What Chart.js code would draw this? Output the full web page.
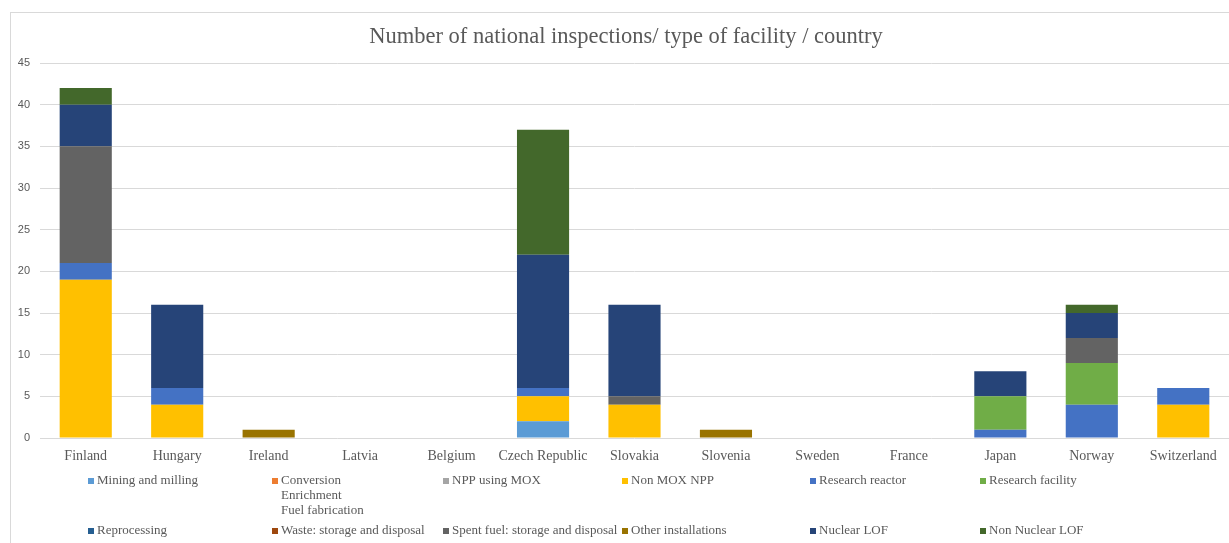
<!DOCTYPE html>
<html>
<head>
<meta charset="utf-8">
<script src="https://cdn.jsdelivr.net/npm/chart.js@4.4.1/dist/chart.umd.min.js"></script>
<style>
  html, body { margin: 0; padding: 0; background: #fff; }
  #wrap { width: 1229px; height: 543px; }
</style>
</head>
<body>
<div id="wrap"><canvas id="inspectionsChart" width="1229" height="543"></canvas></div>
<script>
var countries = ["Finland", "Hungary", "Ireland", "Latvia", "Belgium", "Czech Republic", "Slovakia",
  "Slovenia", "Sweden", "France", "Japan", "Norway", "Switzerland"];

var facilityTypes = ["Mining and milling", ["Conversion", "Enrichment", "Fuel fabrication"], "NPP using MOX",
  "Non MOX NPP", "Research reactor", "Research facility", "Reprocessing", "Waste: storage and disposal",
  "Spent fuel: storage and disposal", "Other installations", "Nuclear LOF", "Non Nuclear LOF"];

var facilityColors = ["#5B9BD5", "#ED7D31", "#A5A5A5", "#FFC000", "#4472C4", "#70AD47",
  "#255E91", "#9E480E", "#636363", "#997300", "#264478", "#43682B"];

//            Fin Hun Ire Lat Bel Cze Slk Sln Swe Fra Jap Nor Sui
var mining      = [0, 0, 0, 0, 0, 2, 0, 0, 0, 0, 0, 0, 0];
var conversion  = [0, 0, 0, 0, 0, 0, 0, 0, 0, 0, 0, 0, 0];
var nppMox      = [0, 0, 0, 0, 0, 0, 0, 0, 0, 0, 0, 0, 0];
var nonMoxNpp   = [19, 4, 0, 0, 0, 3, 4, 0, 0, 0, 0, 0, 4];
var resReactor  = [2, 2, 0, 0, 0, 1, 0, 0, 0, 0, 1, 4, 2];
var resFacility = [0, 0, 0, 0, 0, 0, 0, 0, 0, 0, 4, 5, 0];
var reprocess   = [0, 0, 0, 0, 0, 0, 0, 0, 0, 0, 0, 0, 0];
var waste       = [0, 0, 0, 0, 0, 0, 0, 0, 0, 0, 0, 0, 0];
var spentFuel   = [14, 0, 0, 0, 0, 0, 1, 0, 0, 0, 0, 3, 0];
var otherInst   = [0, 0, 1, 0, 0, 0, 0, 1, 0, 0, 0, 0, 0];
var nuclearLof  = [5, 10, 0, 0, 0, 16, 11, 0, 0, 0, 3, 3, 0];
var nonNuclLof  = [2, 0, 0, 0, 0, 15, 0, 0, 0, 0, 0, 1, 0];

var yTicks = [0, 5, 10, 15, 20, 25, 30, 35, 40, 45];

var chartTitle = "Number of national inspections/ type of facility / country";

var seriesValues = [mining, conversion, nppMox, nonMoxNpp, resReactor, resFacility,
  reprocess, waste, spentFuel, otherInst, nuclearLof, nonNuclLof];

var grey = "#595959";
var serif = "'Liberation Serif', 'Times New Roman', serif";

var datasets = seriesValues.map(function (vals, i) {
  return {
    label: facilityTypes[i],
    data: vals,
    backgroundColor: facilityColors[i],
    borderWidth: 0,
    barPercentage: 0.57,
    categoryPercentage: 1.0
  };
});

// border, title and the grid-style legend the way the spreadsheet draws them
var excelFrame = {
  id: "excelFrame",
  afterDraw: function (chart) {
    var ctx = chart.ctx;
    ctx.save();
    ctx.strokeStyle = "#D9D9D9";
    ctx.lineWidth = 1;
    ctx.strokeRect(10.5, 12.5, 1240, 560);

    ctx.fillStyle = grey;
    ctx.font = "22.5px " + serif;
    ctx.textAlign = "center";
    ctx.textBaseline = "middle";
    ctx.fillText(chartTitle, 626, 37);

    ctx.font = "13px " + serif;
    ctx.textAlign = "left";
    var colXs = [88, 272, 443, 622, 810, 980];
    var rowY = [481, 531];
    chart.data.datasets.forEach(function (ds, i) {
      var x = colXs[i % 6], y = rowY[Math.floor(i / 6)];
      ctx.fillStyle = ds.backgroundColor;
      ctx.fillRect(x, y - 3, 6, 6);
      ctx.fillStyle = grey;
      var lines = Array.isArray(ds.label) ? ds.label : [ds.label];
      lines.forEach(function (t, k) {
        ctx.fillText(t, x + 9, y + k * 15);
      });
    });
    ctx.restore();
  }
};

var ctx = document.getElementById("inspectionsChart").getContext("2d");
var chart = new Chart(ctx, {
  type: "bar",
  data: { labels: countries, datasets: datasets },
  options: {
    responsive: false,
    animation: false,
    layout: { padding: { top: 63, right: 0, left: 0, bottom: 0 } },
    plugins: {
      legend: { display: false },
      title: { display: false },
      tooltip: { enabled: false }
    },
    scales: {
      x: {
        stacked: true,
        grid: { display: false, drawTicks: false },
        border: { display: false },
        ticks: { color: grey, font: { family: serif, size: 14 }, padding: 10, maxRotation: 0, autoSkip: false },
        afterFit: function (scale) { scale.height = 105; }
      },
      y: {
        stacked: true,
        min: 0,
        max: 45,
        afterBuildTicks: function (scale) {
          scale.ticks = yTicks.map(function (v) { return { value: v }; });
        },
        grid: { color: "#D9D9D9", drawTicks: false },
        border: { display: false },
        ticks: { color: grey, font: { family: "'Liberation Sans', Arial, sans-serif", size: 11 }, padding: 10 },
        afterFit: function (scale) { scale.width = 40; }
      }
    }
  },
  plugins: [excelFrame]
});
</script>
</body>
</html>
